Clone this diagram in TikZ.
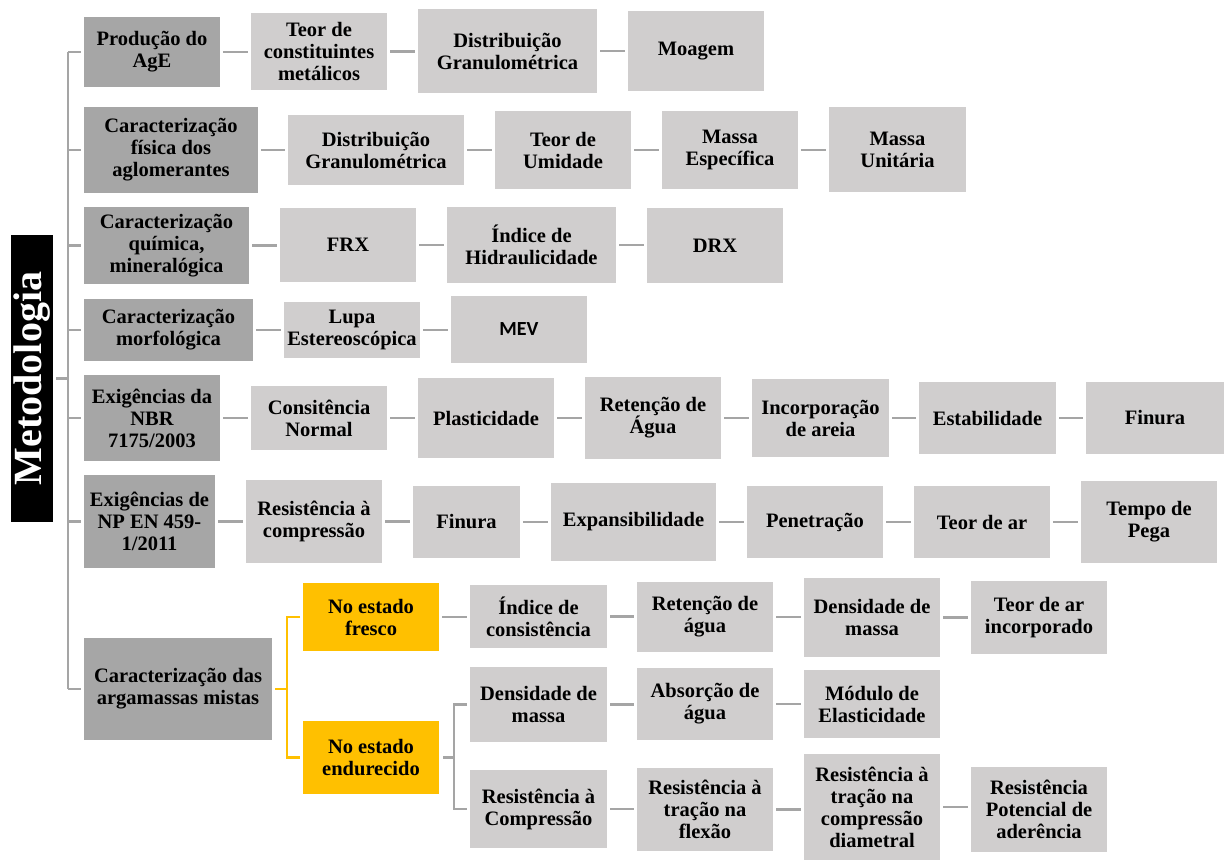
\documentclass[tikz,border=0pt]{standalone}
\usepackage{fontspec}
\setmainfont{Liberation Serif}
\newfontfamily\calib{Carlito}
\definecolor{darkbox}{HTML}{A6A6A6}
\definecolor{lightbox}{HTML}{D0CECE}
\definecolor{linegray}{HTML}{A5A5A5}
\definecolor{orng}{HTML}{FFC000}
\newcommand\mkbox[7]{\node[#2, minimum width={(#5-#3)*1pt}, minimum height={(#6-#4)*1pt}] (#1) at ({(#3+#5)/2},{(#4+#6)/2}) {#7};}
\begin{document}
\begin{tikzpicture}[x=1pt,y=-1pt,
  base/.style={inner sep=0pt, outer sep=0pt, align=center, font=\fontsize{20.5}{22}\selectfont\bfseries},
  pbox/.style={base, fill=darkbox},
  lbox/.style={base, fill=lightbox},
  obox/.style={base, fill=orng},
  conn/.style={draw=linegray, line width=2.5pt},
  oconn/.style={draw=orng, line width=2.5pt}]
\useasboundingbox (0,0) rectangle (1224,860);
% Metodologia
\node[fill=black, text=white, rotate=90, inner sep=0pt, outer sep=0pt, minimum width=287pt, minimum height=42pt, font=\fontsize{40}{44}\selectfont\bfseries] (met) at (32,378.5) {Metodologia};
% row 1
\mkbox{p1}{pbox}{84}{17}{220}{87}{Produção do\\AgE}
\mkbox{r1a}{lbox}{251}{13}{387}{90}{Teor de\\constituintes\\metálicos}
\mkbox{r1b}{lbox}{418}{9}{597}{93}{Distribuição\\Granulométrica}
\mkbox{r1c}{lbox}{628}{11}{764}{91}{Moagem}
% row 2
\mkbox{p2}{pbox}{84}{107}{258}{193}{Caracterização\\física dos\\aglomerantes}
\mkbox{r2a}{lbox}{288}{115}{464}{185}{Distribuição\\Granulométrica}
\mkbox{r2b}{lbox}{495}{111}{631}{189}{Teor de\\Umidade}
\mkbox{r2c}{lbox}{662}{111}{798}{189}{Massa\\Específica}
\mkbox{r2d}{lbox}{829}{107}{966}{192}{Massa\\Unitária}
% row 3
\mkbox{p3}{pbox}{84}{207}{249}{284}{Caracterização\\química,\\mineralógica}
\mkbox{r3a}{lbox}{280}{208}{416}{282}{FRX}
\mkbox{r3b}{lbox}{447}{207}{616}{283}{Índice de\\Hidraulicidade}
\mkbox{r3c}{lbox}{647}{208}{783}{283}{DRX}
% row 4
\mkbox{p4}{pbox}{84}{299}{253}{361}{Caracterização\\morfológica}
\mkbox{r4a}{lbox}{284}{302}{420}{358}{Lupa\\Estereoscópica}
\mkbox{r4b}{lbox}{451}{296}{587}{363}{{\calib\fontsize{20}{22}\selectfont\bfseries MEV}}
% row 5
\mkbox{p5}{pbox}{84}{375}{220}{461}{Exigências da\\NBR\\7175/2003}
\mkbox{r5a}{lbox}{251}{386}{387}{450}{Consitência\\Normal}
\mkbox{r5b}{lbox}{418}{378}{554}{458}{Plasticidade}
\mkbox{r5c}{lbox}{585}{377}{721}{459}{Retenção de\\Água}
\mkbox{r5d}{lbox}{752}{379}{889}{457}{Incorporação\\de areia}
\mkbox{r5e}{lbox}{919}{382}{1056}{454}{Estabilidade}
\mkbox{r5f}{lbox}{1086}{382}{1224}{454}{Finura}
% row 6
\mkbox{p6}{pbox}{84}{475}{215}{568}{Exigências de\\NP EN 459-\\1/2011}
\mkbox{r6a}{lbox}{246}{480}{382}{563}{Resistência à\\compressão}
\mkbox{r6b}{lbox}{413}{486}{520}{558}{Finura}
\mkbox{r6c}{lbox}{551}{483}{716}{561}{Expansibilidade}
\mkbox{r6d}{lbox}{747}{486}{883}{558}{Penetração}
\mkbox{r6e}{lbox}{914}{486}{1050}{558}{Teor de ar}
\mkbox{r6f}{lbox}{1081}{481}{1217}{563}{Tempo de\\Pega}
% row 7
\mkbox{p7}{pbox}{84}{638}{272}{740}{Caracterização das\\argamassas mistas}
\mkbox{fr}{obox}{303}{583}{439}{651}{No estado\\fresco}
\mkbox{en}{obox}{303}{721}{439}{794}{No estado\\endurecido}
\mkbox{f1}{lbox}{470}{585}{607}{648}{Índice de\\consistência}
\mkbox{f2}{lbox}{637}{582}{773}{652}{Retenção de\\água}
\mkbox{f3}{lbox}{804}{578}{940}{657}{Densidade de\\massa}
\mkbox{f4}{lbox}{971}{581}{1107}{654}{Teor de ar\\incorporado}
\mkbox{e1}{lbox}{470}{667}{607}{742}{Densidade de\\massa}
\mkbox{e2}{lbox}{637}{668}{773}{740}{Absorção de\\água}
\mkbox{e3}{lbox}{804}{670}{940}{738}{Módulo de\\Elasticidade}
\mkbox{g1}{lbox}{470}{770}{607}{848}{Resistência à\\Compressão}
\mkbox{g2}{lbox}{637}{768}{773}{851}{Resistência à\\tração na\\flexão}
\mkbox{g3}{lbox}{804}{754}{940}{860}{Resistência à\\tração na\\compressão\\diametral}
\mkbox{g4}{lbox}{971}{767}{1107}{852}{Resistência\\Potencial de\\aderência}
% trunk
\coordinate (tr) at (68,378);
\draw[conn] (tr |- p1.west) -- (tr |- p7.west);
\draw[conn] ([xshift=3pt]met.south) -- (tr |- met.south);
\foreach \p in {p1,p2,p3,p4,p5,p6,p7}
  \draw[conn] (tr |- \p.west) -- ([xshift=-3pt]\p.west);
% row connectors
\foreach \a/\b in {p1/r1a,r1a/r1b,r1b/r1c,
                   p2/r2a,r2a/r2b,r2b/r2c,r2c/r2d,
                   p3/r3a,r3a/r3b,r3b/r3c,
                   p4/r4a,r4a/r4b,
                   p5/r5a,r5a/r5b,r5b/r5c,r5c/r5d,r5d/r5e,r5e/r5f,
                   p6/r6a,r6a/r6b,r6b/r6c,r6c/r6d,r6d/r6e,r6e/r6f,
                   fr/f1,f1/f2,f2/f3,f3/f4,
                   e1/e2,e2/e3,
                   g1/g2,g2/g3,g3/g4}
  \draw[conn] ([xshift=3pt]\a.east) -- ([xshift=-3pt]\b.west |- \a.east);
% orange branch
\coordinate (oj) at (287,688);
\draw[oconn] ([xshift=3pt]p7.east) -- (oj |- p7.east);
\draw[oconn] ([xshift=-3pt]fr.west) -| (oj) |- ([xshift=-3pt]en.west);
% endurecido branch
\coordinate (gj) at (454,757);
\draw[conn] ([xshift=4pt]en.east) -- (gj |- en.east);
\draw[conn] ([xshift=-3pt]e1.west) -| (gj) |- ([xshift=-3pt]g1.west);
\end{tikzpicture}
\end{document}
